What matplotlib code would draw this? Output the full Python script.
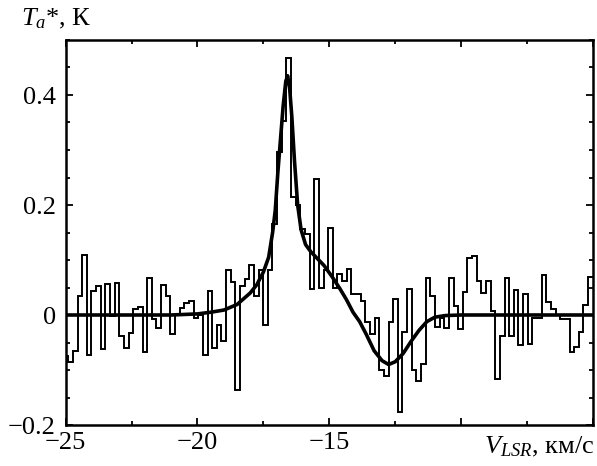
import numpy as np
import matplotlib
matplotlib.use("Agg")
import matplotlib.pyplot as plt
from matplotlib.ticker import MultipleLocator

plt.rcParams['font.family'] = ['Liberation Serif', 'DejaVu Serif']
plt.rcParams['mathtext.fontset'] = 'custom'
plt.rcParams['mathtext.rm'] = 'Liberation Serif'
plt.rcParams['mathtext.it'] = 'Liberation Serif:italic'
plt.rcParams['axes.unicode_minus'] = True

# ---- data: observed spectrum (channel values, K) ----
v_start = -25.074      # left edge of first channel, km/s
channel_width = 0.176  # km/s
ta_values = [
    -0.074, -0.086, -0.065, 0.035, 0.109, -0.072, 0.044, 0.053, -0.061, 0.056,
    -0.002, 0.059, -0.038, -0.060, -0.033, 0.011, 0.014, -0.067, 0.067, -0.007,
    -0.024, 0.055, 0.035, -0.035, 0.000, 0.013, 0.022, 0.026, -0.006, 0.000,
    -0.073, 0.044, -0.060, -0.018, -0.047, 0.082, 0.060, -0.136, 0.053, 0.065,
    0.091, 0.035, 0.082, -0.018, 0.081, 0.165, 0.296, 0.353, 0.468, 0.214,
    0.200, 0.156, 0.147, 0.047, 0.247, 0.050, 0.082, 0.158, 0.050, 0.075,
    0.062, 0.084, 0.038, 0.038, 0.025, -0.013, -0.035, -0.006, -0.100, -0.111,
    -0.013, 0.029, -0.177, -0.031, 0.048, -0.100, -0.120, -0.089, 0.067, 0.035,
    -0.021, -0.006, -0.024, 0.067, 0.016, -0.025, 0.041, 0.103, 0.107, 0.061,
    0.040, 0.061, 0.008, -0.116, -0.038, 0.067, -0.038, 0.045, -0.055, 0.039,
    -0.053, -0.006, -0.006, 0.073, 0.023, 0.011, 0.000, -0.008, -0.008, -0.067,
    -0.059, -0.030, 0.018, 0.070, 0.070,
]

# ---- data: model fit curve ----
fit_v = [-25.0, -21.0, -20.0, -19.5, -19.0, -18.5, -18.0, -17.75, -17.5, -17.3,
         -17.15, -17.05, -16.95, -16.85, -16.75, -16.65, -16.58, -16.5, -16.42,
         -16.32, -16.2, -16.07, -15.9, -15.7, -15.5, -15.2, -14.9, -14.6, -14.35,
         -14.1, -13.85, -13.6, -13.3, -13.0, -12.75, -12.5, -12.2, -11.9, -11.6,
         -11.3, -11.0, -10.6, -10.0, -5.0]
fit_t = [0.0, 0.0, 0.002, 0.005, 0.009, 0.019, 0.040, 0.055, 0.078, 0.105,
         0.150, 0.190, 0.260, 0.320, 0.380, 0.425, 0.435, 0.410, 0.360,
         0.280, 0.200, 0.155, 0.128, 0.115, 0.105, 0.090, 0.070, 0.048, 0.028,
         0.005, -0.012, -0.035, -0.065, -0.083, -0.090, -0.085, -0.070, -0.048, -0.028,
         -0.012, -0.004, -0.001, 0.0, 0.0]

x_major = [-25, -20, -15, -10, -5]
x_labels = ['\u221225', '\u221220', '\u221215', '', '']
y_major = [-0.2, 0.0, 0.2, 0.4]
y_labels = ['\u22120.2', '0', '0.2', '0.4']

fig = plt.figure(figsize=(5.97, 4.66), dpi=100)
ax = fig.add_axes([65.6 / 597, 41 / 466, (593 - 65.6) / 597, 385 / 466])

edges = v_start + channel_width * np.arange(len(ta_values) + 1)
ax.stairs(ta_values, edges, baseline=None, color='black', linewidth=1.4)
ax.plot(fit_v, fit_t, color='black', linewidth=2.6, solid_capstyle='round')

ax.set_xlim(-25, -5)
ax.set_ylim(-0.2, 0.5)
ax.set_xticks(x_major)
ax.set_xticklabels(x_labels)
ax.set_yticks(y_major)
ax.set_yticklabels(y_labels)
ax.xaxis.set_minor_locator(MultipleLocator(2.5))
ax.yaxis.set_minor_locator(MultipleLocator(0.05))
ax.tick_params(which='both', direction='in', top=True, right=True, width=1.3,
               labelsize=19)
ax.tick_params(which='major', length=5)
ax.tick_params(which='minor', length=3)
ax.tick_params(axis='y', pad=7)
ax.tick_params(axis='x', pad=5)
for s in ax.spines.values():
    s.set_linewidth(1.8)

fig.text(21 / 597, 1 - 25 / 466, r'$T_a$*, К', fontsize=19, ha='left', va='baseline')
fig.text(594 / 597, 13 / 466, r'$V_{LSR}$, км/с', fontsize=19, ha='right', va='baseline')

fig.savefig('out.png', dpi=100)
